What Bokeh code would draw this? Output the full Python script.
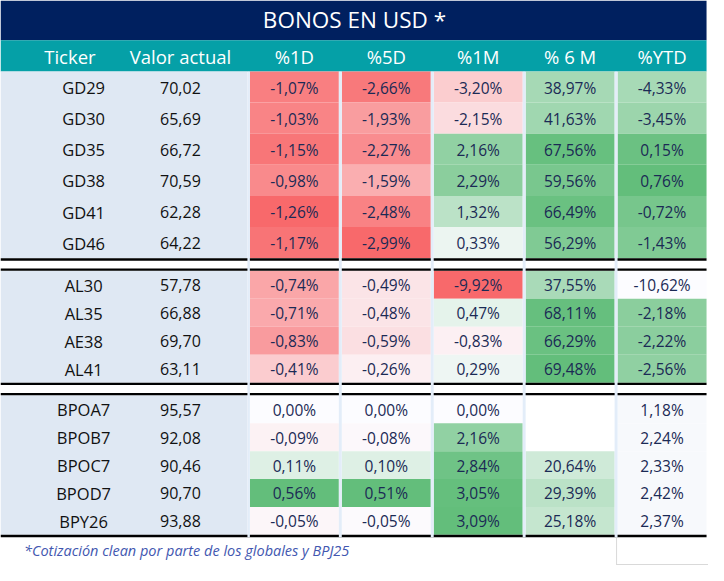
from bokeh.plotting import figure
from bokeh.models import Range1d, ColumnDataSource
from bokeh.core.properties import value
from bokeh.embed import file_html
from bokeh.resources import INLINE

# ---------------- data ----------------
title = "BONOS EN USD *"
headers = ["Ticker", "Valor actual", "%1D", "%5D", "%1M", "% 6 M", "%YTD"]
tickers = ["GD29", "GD30", "GD35", "GD38", "GD41", "GD46",
           "AL30", "AL35", "AE38", "AL41",
           "BPOA7", "BPOB7", "BPOC7", "BPOD7", "BPY26"]
group_of = [0, 0, 0, 0, 0, 0, 1, 1, 1, 1, 2, 2, 2, 2, 2]
valor = [70.02, 65.69, 66.72, 70.59, 62.28, 64.22,
         57.78, 66.88, 69.70, 63.11,
         95.57, 92.08, 90.46, 90.70, 93.88]
d1 = [-1.07, -1.03, -1.15, -0.98, -1.26, -1.17,
      -0.74, -0.71, -0.83, -0.41,
      0.00, -0.09, 0.11, 0.56, -0.05]
d5 = [-2.66, -1.93, -2.27, -1.59, -2.48, -2.99,
      -0.49, -0.48, -0.59, -0.26,
      0.00, -0.08, 0.10, 0.51, -0.05]
m1 = [-3.20, -2.15, 2.16, 2.29, 1.32, 0.33,
      -9.92, 0.47, -0.83, 0.29,
      0.00, 2.16, 2.84, 3.05, 3.09]
m6 = [38.97, 41.63, 67.56, 59.56, 66.49, 56.29,
      37.55, 68.11, 66.29, 69.48,
      None, None, 20.64, 29.39, 25.18]
ytd = [-4.33, -3.45, 0.15, 0.76, -0.72, -1.43,
       -10.62, -2.18, -2.22, -2.56,
       1.18, 2.24, 2.33, 2.42, 2.37]
footnote = "*Cotización clean por parte de los globales y BPJ25"

# ---------------- styles / layout ----------------
W, H = 724, 581
NAVY = "#00205f"
TEAL = "#05a0a7"
LIGHT = "#dfe8f3"
STRIP = "#e3edf9"
RED = (248, 105, 107)
WHITE = (252, 252, 255)
GREEN = (99, 190, 123)
FONT = value("Open Sans")

TITLE_B, HEAD_B = 41, 73
ROW_H = [32.0, 28.75, 28.7]
LINE_T, SEP_GAP = 2.5, 8.0
cell_left = [255, 349, 443, 537, 631]
cell_w = 91
TABLE_R = 722


def lerp(c1, c2, t):
    t = max(0.0, min(1.0, t))
    return "#%02x%02x%02x" % tuple(int(round(a + (b - a) * t)) for a, b in zip(c1, c2))


def three_scale(vals):
    nums = [v for v in vals if v is not None]
    lo, hi = min(nums), max(nums)
    out = []
    for v in vals:
        if v is None:
            out.append("#ffffff")
        elif v < 0:
            out.append(lerp(WHITE, RED, v / lo))
        elif v > 0:
            out.append(lerp(WHITE, GREEN, v / hi))
        else:
            out.append(lerp(WHITE, WHITE, 0))
    return out


def pos_scale(vals):
    hi = max(v for v in vals if v is not None)
    return ["#ffffff" if v is None else lerp(WHITE, GREEN, v / hi) for v in vals]


def ytd_scale(vals, groups):
    sel = [v for v, g in zip(vals, groups) if g < 2]
    lo, hi = min(sel), max(sel)
    return [lerp(WHITE, GREEN, (v - lo) / (hi - lo)) if g < 2 else "#f7f9fc"
            for v, g in zip(vals, groups)]


def fmt(v, pct):
    if v is None:
        return ""
    s = ("%.2f" % v).replace(".", ",")
    return s + "%" if pct else s


# row geometry
row_top, row_bot = [], []
black_lines, group_spans = [], []
y = HEAD_B
ngroups = max(group_of) + 1
for g in range(ngroups):
    n = group_of.count(g)
    g_top = y
    for _ in range(n):
        row_top.append(y)
        row_bot.append(y + ROW_H[g])
        y += ROW_H[g]
    group_spans.append((g_top, y))
    black_lines.append((y, y + LINE_T))
    y += LINE_T
    if g < ngroups - 1:
        y += SEP_GAP
        black_lines.append((y, y + LINE_T))
        y += LINE_T
TABLE_B = y

p = figure(width=708, height=565, output_backend="svg", toolbar_location=None,
           x_range=Range1d(0, W), y_range=Range1d(H, 0), min_border=0)
p.axis.visible = False
p.grid.visible = False
p.outline_line_color = None
p.background_fill_color = "white"
p.border_fill_color = "white"

# title + header bars
p.quad(left=[0], right=[TABLE_R], top=[0], bottom=[TITLE_B], fill_color=NAVY, line_color=None)
p.quad(left=[0], right=[TABLE_R], top=[TITLE_B], bottom=[HEAD_B], fill_color=TEAL, line_color=None)

# light column background
p.quad(left=[0] * ngroups, right=[252.5] * ngroups,
       top=[s[0] for s in group_spans], bottom=[s[1] for s in group_spans],
       fill_color=LIGHT, line_color=None)

# colored cells
cols = [d1, d5, m1, m6, ytd]
colors = [three_scale(d1), three_scale(d5), three_scale(m1), pos_scale(m6), ytd_scale(ytd, group_of)]
L, R, T, B, C = [], [], [], [], []
for ci, col in enumerate(cols):
    for ri in range(len(tickers)):
        L.append(cell_left[ci])
        R.append(cell_left[ci] + cell_w)
        T.append(row_top[ri])
        B.append(row_bot[ri])
        C.append(colors[ci][ri])
p.quad(left=L, right=R, top=T, bottom=B, fill_color=C, line_color=None)

# black separator lines
p.quad(left=[0] * len(black_lines), right=[TABLE_R] * len(black_lines),
       top=[b[0] for b in black_lines], bottom=[b[1] for b in black_lines],
       fill_color="black", line_color=None)

# thin light strips between columns
strip_l = [252.5] + [cell_left[i] + cell_w for i in range(4)]
strip_r = cell_left
p.quad(left=strip_l, right=strip_r, top=[HEAD_B] * 5, bottom=[TABLE_B] * 5,
       fill_color=STRIP, line_color=None)

# faint frame at bottom right
p.segment(x0=[630, 630], y0=[TABLE_B, 580], x1=[630, W], y1=[H, 580],
          line_color="#d9d9d9", line_width=1)

# title text
p.text(x=[362], y=[20], text=[title], text_color="white", text_font=FONT,
       text_font_size="22.5px", text_align="center", text_baseline="middle")

# header texts
hx = [71, 184] + [l + cell_w / 2 for l in cell_left]
p.text(x=hx, y=[57.5] * len(headers), text=headers, text_color="white", text_font=FONT,
       text_font_size="18.5px", text_align="center", text_baseline="middle")

# row texts
centers = [(a + b) / 2 + 0.5 for a, b in zip(row_top, row_bot)]
src_t = ColumnDataSource(dict(x=[85] * len(tickers), y=centers, t=tickers))
p.text(x="x", y="y", text="t", source=src_t, text_color="#111111", text_font=FONT,
       text_font_size="16.5px", text_align="center", text_baseline="middle")
src_v = ColumnDataSource(dict(x=[184] * len(valor), y=centers, t=[fmt(v, False) for v in valor]))
p.text(x="x", y="y", text="t", source=src_v, text_color="#111111", text_font=FONT,
       text_font_size="16px", text_align="center", text_baseline="middle")

VX, VY, VT = [], [], []
for ci, col in enumerate(cols):
    for ri, v in enumerate(col):
        VX.append(cell_left[ci] + cell_w / 2)
        VY.append(centers[ri])
        VT.append(fmt(v, True))
p.text(x=VX, y=VY, text=VT, text_color="#1b2a55", text_font=FONT,
       text_font_size="15.5px", text_align="center", text_baseline="middle")

# footnote
p.text(x=[24], y=[566], text=[footnote], text_color="#4257b0", text_font=FONT,
       text_font_size="14.5px", text_font_style="italic", text_align="left",
       text_baseline="middle")

open("out.html", "w").write(file_html(p, INLINE))
